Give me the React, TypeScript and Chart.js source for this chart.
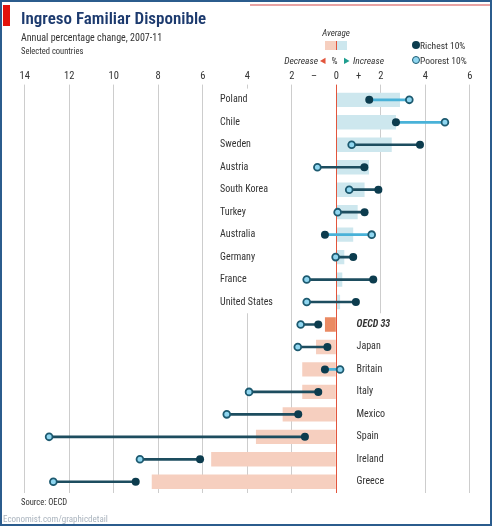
import React, { useEffect, useRef } from "react";
import { Chart, registerables } from "chart.js";

Chart.register(...registerables);

const COUNTRIES = [
  "Poland", "Chile", "Sweden", "Austria", "South Korea", "Turkey", "Australia", "Germany", "France",
  "United States", "OECD 33", "Japan", "Britain", "Italy", "Mexico", "Spain", "Ireland", "Greece",
];
const AVERAGE = [2.86, 2.68, 2.49, 1.47, 1.27, 0.96, 0.76, 0.36, 0.27, 0.17, -0.51, -0.91, -1.53, -1.53, -2.41, -3.61, -5.62, -8.29];
const RICHEST = [1.48, 2.68, 3.76, 1.26, 1.89, 1.27, -0.51, 0.76, 1.66, 0.88, -0.81, -0.4, -0.51, -0.81, -1.71, -1.41, -6.12, -9.01];
const POOREST = [3.28, 4.88, 0.69, -0.85, 0.58, 0.06, 1.59, -0.03, -1.33, -1.33, -1.6, -1.73, 0.17, -3.92, -4.92, -12.9, -8.82, -12.71];
const TICK_VALUES = [-14, -12, -10, -8, -6, -4, -2, -1, 0, 1, 2, 4, 6];
const TICK_LABELS = ["14", "12", "10", "8", "6", "4", "2", "–", "0", "+", "2", "4", "6"];
const AGGREGATE = "OECD 33";

const FONT = '"Liberation Sans Narrow", "Roboto Condensed", "DejaVu Sans Condensed", Lato, sans-serif';
const TEXT = "#333";
const RED = "#e2553c";
const GRID = "#cdcdcd";
const DARK = "#0c3c4e";
const LIGHT_FILL = "#8fd6f0";
const LIGHT_BORDER = "#1d5a70";

const rowPlugin = {
  id: "rowLabels",
  beforeDatasetsDraw(chart: any) {
    const { ctx, chartArea, scales } = chart;
    const x = scales.x;
    const y = scales.y;
    const split = (y.getPixelForValue(9) + y.getPixelForValue(10)) / 2;
    ctx.save();
    ctx.fillStyle = "#fff";
    const ux0 = x.getPixelForValue(-5.3);
    const ux1 = x.getPixelForValue(-2.2);
    ctx.fillRect(ux0, chartArea.top, ux1 - ux0, split - chartArea.top);
    const lx0 = x.getPixelForValue(0.6);
    const lx1 = x.getPixelForValue(2.9);
    ctx.fillRect(lx0, split, lx1 - lx0, chartArea.bottom - split);
    ctx.textBaseline = "middle";
    ctx.textAlign = "left";
    ctx.fillStyle = TEXT;
    COUNTRIES.forEach((name, i) => {
      const py = y.getPixelForValue(i);
      const positive = i < 10;
      const px = positive ? x.getPixelForValue(-5.22) : x.getPixelForValue(0.91);
      ctx.font = name === AGGREGATE ? `italic bold 10px ${FONT}` : `10px ${FONT}`;
      ctx.fillText(name, px, py);
    });
    ctx.restore();
  },
  afterDatasetDraw(chart: any, args: any) {
    if (args.index !== 0) return;
    const { ctx, chartArea, scales } = chart;
    const x0 = Math.round(scales.x.getPixelForValue(0)) + 0.5;
    ctx.save();
    ctx.strokeStyle = RED;
    ctx.lineWidth = 1;
    ctx.beginPath();
    ctx.moveTo(x0, chartArea.top);
    ctx.lineTo(x0, chartArea.bottom);
    ctx.stroke();
    ctx.restore();
  },
};

function ChartCanvas() {
  const ref = useRef<HTMLCanvasElement>(null);
  useEffect(() => {
    const canvas = ref.current;
    if (!canvas) return;
    const barColors = AVERAGE.map((v, i) =>
      COUNTRIES[i] === AGGREGATE ? "#ea8a63" : v >= 0 ? "#cde7ee" : "#f6cfbf"
    );
    const lineColors = COUNTRIES.map((_, i) => (POOREST[i] > RICHEST[i] ? "#49b2d8" : "#1d4d5f"));
    const chart = new Chart(canvas, {
      type: "bar",
      data: {
        labels: COUNTRIES,
        datasets: [
          {
            type: "bar",
            data: AVERAGE,
            backgroundColor: barColors,
            barPercentage: 0.64,
            categoryPercentage: 1,
            grouped: false,
            order: 4,
          } as any,
          {
            type: "bar",
            data: COUNTRIES.map((_, i) => [RICHEST[i], POOREST[i]]),
            backgroundColor: lineColors,
            barThickness: 2,
            grouped: false,
            order: 3,
          } as any,
          {
            type: "line",
            data: COUNTRIES.map((c, i) => ({ x: POOREST[i], y: c })),
            showLine: false,
            pointRadius: 3.4,
            pointBackgroundColor: LIGHT_FILL,
            pointBorderColor: LIGHT_BORDER,
            pointBorderWidth: 1.8,
            order: 2,
          } as any,
          {
            type: "line",
            data: COUNTRIES.map((c, i) => ({ x: RICHEST[i], y: c })),
            showLine: false,
            pointRadius: 4,
            pointBackgroundColor: DARK,
            pointBorderColor: DARK,
            pointBorderWidth: 0,
            order: 1,
          } as any,
        ],
      },
      options: {
        responsive: false,
        animation: false,
        devicePixelRatio: 1,
        indexAxis: "y",
        layout: { padding: { left: 13.5, right: 14, top: 68, bottom: 37 } },
        plugins: { legend: { display: false }, tooltip: { enabled: false } },
        scales: {
          x: {
            type: "linear",
            position: "top",
            min: -14.5,
            max: 6.5,
            afterBuildTicks: (s: any) => {
              s.ticks = TICK_VALUES.map((v) => ({ value: v }));
            },
            ticks: {
              autoSkip: false,
              maxRotation: 0,
              padding: 2,
              color: TEXT,
              font: { family: FONT, size: 10.5 },
              callback: (v: any) => TICK_LABELS[TICK_VALUES.indexOf(Number(v))],
            },
            grid: {
              tickLength: 4,
              lineWidth: 1,
              color: (c: any) => {
                const v = c.tick ? c.tick.value : null;
                if (v === 1 || v === -1) return "rgba(0,0,0,0)";
                if (v === 0) return RED;
                return GRID;
              },
              tickColor: (c: any) => {
                const v = c.tick ? c.tick.value : null;
                if (v === 1 || v === -1) return "rgba(0,0,0,0)";
                if (v === 0) return RED;
                return GRID;
              },
            },
            border: { display: false },
          },
          y: {
            type: "category",
            labels: COUNTRIES,
            display: false,
            offset: true,
            grid: { display: false },
          },
        },
      } as any,
      plugins: [rowPlugin],
    });
    return () => chart.destroy();
  }, []);
  return (
    <canvas
      ref={ref}
      width={495}
      height={530}
      style={{ position: "absolute", left: 0, top: 0, width: 495, height: 530 }}
    />
  );
}

const abs = (s: React.CSSProperties): React.CSSProperties => ({ position: "absolute", whiteSpace: "nowrap", ...s });

export default function App() {
  return (
    <div style={{ position: "absolute", left: 0, top: 0, width: 495, height: 530, background: "#fff", fontFamily: FONT, overflow: "hidden" }}>
      <ChartCanvas />
      <div style={abs({ left: 0, top: 0, width: 492, height: 526, border: "2.5px solid #2b5c8d", boxSizing: "border-box" })} />
      <div style={abs({ left: 250, top: 4, width: 240, height: 1.5, background: "#e9a3a3" })} />
      <div style={abs({ left: 3, top: 5, width: 7, height: 21, background: "#e3120b" })} />
      <div style={abs({ left: 21, top: 8, fontSize: 17, lineHeight: "20px", color: "#1c3a6e", fontWeight: 600 })}>
        Ingreso Familiar Disponible
      </div>
      <div style={abs({ left: 21, top: 32, fontSize: 10, lineHeight: "12px", color: TEXT })}>
        Annual percentage change, 2007-11
      </div>
      <div style={abs({ left: 21, top: 45.5, fontSize: 8.5, lineHeight: "10px", color: TEXT })}>Selected countries</div>
      <div style={abs({ left: 316, top: 27.5, width: 40, textAlign: "center", fontSize: 9, lineHeight: "11px", fontStyle: "italic", color: TEXT })}>
        Average
      </div>
      <div style={abs({ left: 325, top: 40.5, width: 11, height: 9, background: "#f6cfbf" })} />
      <div style={abs({ left: 336, top: 40.5, width: 11, height: 9, background: "#cde7ee" })} />
      <div style={abs({ left: 335.5, top: 40.5, width: 1, height: 9, background: RED })} />
      <div style={abs({ right: 495 - 318, top: 54.5, fontSize: 9.5, lineHeight: "11px", fontStyle: "italic", color: TEXT })}>Decrease</div>
      <div style={abs({ left: 320, top: 54.5, fontSize: 8, lineHeight: "11px", color: RED })}>◀</div>
      <div style={abs({ left: 331.5, top: 54.5, fontSize: 9.5, lineHeight: "11px", color: TEXT })}>%</div>
      <div style={abs({ left: 344, top: 54.5, fontSize: 8, lineHeight: "11px", color: "#1f9e8f" })}>▶</div>
      <div style={abs({ left: 353, top: 54.5, fontSize: 9.5, lineHeight: "11px", fontStyle: "italic", color: TEXT })}>Increase</div>
      <div style={abs({ left: 411.5, top: 41, width: 8, height: 8, borderRadius: "50%", background: DARK })} />
      <div style={abs({ left: 420, top: 39.5, fontSize: 9.5, lineHeight: "11px", color: TEXT })}>Richest 10%</div>
      <div style={abs({ left: 411.5, top: 55.5, width: 8, height: 8, borderRadius: "50%", background: LIGHT_FILL, border: `1.8px solid ${LIGHT_BORDER}`, boxSizing: "border-box" })} />
      <div style={abs({ left: 420, top: 54.5, fontSize: 9.5, lineHeight: "11px", color: TEXT })}>Poorest 10%</div>
      <div style={abs({ left: 21, top: 496.5, fontSize: 8.5, lineHeight: "10px", color: TEXT })}>Source: OECD</div>
      <div style={abs({ left: 3, top: 514, fontSize: 9, lineHeight: "11px", color: "#a9b3bd" })}>Economist.com/graphicdetail</div>
    </div>
  );
}
